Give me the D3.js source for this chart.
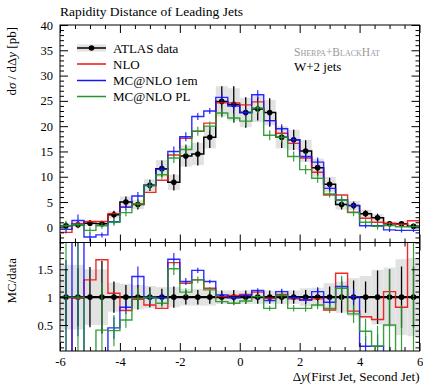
<!DOCTYPE html>
<html>
<head>
<meta charset="utf-8">
<script src="https://cdn.jsdelivr.net/npm/d3@7"></script>
<style>
  body { margin: 0; background: #fff; }
  svg text { font-family: "Liberation Serif", "DejaVu Serif", serif; fill: #000; }
</style>
</head>
<body>
<div id="chart"></div>
<script>
// bin edges of the Δy histogram (30 bins)
const binEdges = [-6, -5.6, -5.2, -4.8, -4.4, -4, -3.6, -3.2, -2.8, -2.4, -2, -1.6, -1.2, -0.8, -0.4,
  0, 0.4, 0.8, 1.2, 1.6, 2, 2.4, 2.8, 3.2, 3.6, 4, 4.4, 4.8, 5.2, 5.6, 6];

// ATLAS data, dσ/dΔy [pb]
const dataVals = [0.3, 0.5, 0.8, 0.7, 2.5, 5.0, 4.5, 8.3, 11.6, 8.9, 14.1, 14.5, 17.8, 24.9, 24.3,
  22.7, 23.4, 22.7, 17.8, 17.3, 15.1, 11.8, 8.5, 4.5, 4.3, 2.7, 1.9, 0.7, 0.7, 0.2];
const dataErr = [0.7, 0.7, 0.6, 0.6, 0.8, 1.1, 1.0, 1.1, 1.6, 1.6, 2.1, 2.3, 2.1, 3.0, 3.6,
  3.0, 2.3, 2.8, 2.1, 2.0, 2.1, 1.6, 1.3, 1.0, 0.8, 0.7, 0.8, 0.5, 0.5, 0.5];
const dataBand = [0.5, 0.5, 0.5, 0.5, 0.7, 1.1, 0.9, 1.2, 1.7, 1.5, 2.1, 2.2, 2.2, 3.0, 3.2,
  2.9, 2.6, 2.5, 2.2, 2.0, 2.2, 1.8, 1.5, 1.0, 0.9, 0.8, 0.7, 0.5, 0.5, 0.4];

// predictions
const nloVals = [-1.0, 0.7, 1.15, 1.15, 2.7, 4.0, 4.6, 6.9, 9.3, 14.3, 17.6, 19.0, 20.6, 24.6, 24.6,
  24.2, 24.8, 21.1, 18.6, 16.6, 13.7, 10.9, 6.4, 6.4, 3.0, 1.8, 1.0, 0.8, 0.6, 1.3];
const mc1emVals = [-0.4, 1.35, -1.9, -1.5, 1.1, 4.0, 6.2, 8.3, 11.5, 15.0, 17.9, 21.9, 23.0, 25.7, 24.0,
  22.7, 26.2, 21.1, 19.5, 17.3, 14.0, 12.9, 7.7, 5.4, 4.3, 0.3, 0.3, -0.5, -0.6, -0.6];
const mc1emErr = [0.8, 1.2, 0.9, 0.5, 0.5, 0.6, 0.8, 0.8, 1.0, 1.0, 0.9, 0.7, 0.6, 0.9, 0.8,
  0.7, 0.9, 1.0, 0.9, 0.8, 0.8, 0.9, 0.7, 0.6, 0.6, 0.5, 0.4, 0.4, 0.4, 0.3];
const mcPlVals = [0.3, 0.5, -0.6, 0.3, 1.0, 2.9, 4.6, 8.2, 10.4, 13.7, 15.4, 19.0, 20.0, 22.6, 21.6,
  21.0, 23.6, 18.2, 17.8, 14.0, 11.4, 9.7, 6.6, 5.4, 2.9, 1.0, 0.2, 0.35, 0.1, 0.1];
const mcPlErr = [1.0, 0.6, 0.6, 0.6, 0.7, 0.7, 0.8, 0.9, 0.9, 1.0, 1.0, 0.9, 0.9, 0.9, 0.9,
  1.0, 1.0, 1.0, 1.0, 1.0, 0.9, 0.9, 0.7, 1.0, 0.7, 0.6, 0.7, 0.7, 0.6, 0.5];

// ratio panel (MC/data)
const ratioDataErr = [0.5, 0.52, 0.54, 0.65, 0.28, 0.22, 0.22, 0.18, 0.15, 0.19, 0.13, 0.13, 0.12, 0.12, 0.13,
  0.12, 0.12, 0.12, 0.12, 0.12, 0.13, 0.16, 0.19, 0.28, 0.3, 0.28, 0.48, 0.5, 0.55, 0.55];
const ratioBand = [0.58, 0.58, 0.5, 0.5, 0.26, 0.24, 0.22, 0.2, 0.18, 0.18, 0.15, 0.15, 0.15, 0.12, 0.12,
  0.12, 0.12, 0.12, 0.12, 0.12, 0.16, 0.17, 0.25, 0.28, 0.34, 0.38, 0.49, 0.53, 0.68, 0.7];
const ratioNlo = [-1.0, 0.98, 1.31, 1.67, 1.07, 0.76, 0.96, 0.86, 0.80, 1.62, 1.25, 1.31, 1.16, 1.01, 1.03,
  1.05, 1.09, 0.98, 1.05, 0.97, 0.95, 0.97, 0.77, 1.43, 0.75, 0.65, 0.6, 1.1, 0.82, 2.5];
const ratio1em = [-1.0, 2.7, -2.4, -2.1, 0.45, 0.82, 1.37, 0.99, 0.99, 1.68, 1.28, 1.48, 1.28, 1.04, 0.99,
  1.03, 1.12, 0.94, 1.10, 0.99, 0.95, 1.1, 0.91, 1.19, 1.01, 0.12, 0.12, -0.7, -0.9, -3];
const ratioPl = [1.0, 1.0, -0.75, 0.41, 0.40, 0.59, 0.98, 1.0, 0.89, 1.51, 1.09, 1.31, 1.13, 0.92, 0.89,
  0.93, 1.01, 0.80, 1.03, 0.80, 0.80, 0.86, 0.80, 1.16, 0.70, 0.39, 0.12, 0.5, 0.0, 0.0];

// axis ticks
const xMajor = [-6, -4, -2, 0, 2, 4, 6];
const yMainMajor = [0, 5, 10, 15, 20, 25, 30, 35, 40];
const yRatioMajor = [0.5, 1, 1.5];
const yRatioLabels = ["0.5", "1", "1.5"];

const legendNames = ["ATLAS data", "NLO", "MC@NLO 1em", "MC@NLO PL"];
const colors = { data: "#000", nlo: "#ee1111", em: "#1414ff", pl: "#22962a" };

const W = 423, H = 384;
const pLeft = 60, pRight = 419.5, pTop = 25, pMid = 242.5, pBottom = 351;

const svg = d3.select("#chart").append("svg")
  .attr("width", W).attr("height", H);

const x = d3.scaleLinear().domain([-6, 6]).range([pLeft, pRight]);
const yMain = d3.scaleLinear().domain([-3, 40]).range([pMid, pTop]);
const yRatio = d3.scaleLinear().domain([0.035, 1.98]).range([pBottom, pMid]);

const defs = svg.append("defs");
defs.append("clipPath").attr("id", "clipMain").append("rect")
  .attr("x", pLeft).attr("y", pTop).attr("width", pRight - pLeft).attr("height", pMid - pTop);
defs.append("clipPath").attr("id", "clipRatio").append("rect")
  .attr("x", pLeft).attr("y", pMid).attr("width", pRight - pLeft).attr("height", pBottom - pMid);

const centers = dataVals.map(function(d, i) { return (binEdges[i] + binEdges[i + 1]) / 2; });

function stepLine(y) {
  return d3.line().x(function(d) { return x(d[0]); }).y(function(d) { return y(d[1]); })
    .curve(d3.curveStepAfter);
}
function stepPoints(vals) {
  const pts = vals.map(function(v, i) { return [binEdges[i], v]; });
  pts.push([binEdges[vals.length], vals[vals.length - 1]]);
  return pts;
}

function drawPanel(g, y, vals, errs, bands, series) {
  // grey band of data uncertainty
  g.selectAll("rect.band").data(vals).enter().append("rect")
    .attr("class", "band")
    .attr("x", function(d, i) { return x(binEdges[i]); })
    .attr("width", function(d, i) { return x(binEdges[i + 1]) - x(binEdges[i]); })
    .attr("y", function(d, i) { return y(d + bands[i]); })
    .attr("height", function(d, i) { return y(d - bands[i]) - y(d + bands[i]); })
    .attr("fill", "#e2e2e2");

  // data histogram
  g.append("path").datum(stepPoints(vals))
    .attr("d", stepLine(y)).attr("fill", "none")
    .attr("stroke", "#000").attr("stroke-width", series.ratio ? 2.2 : 1.5);
  g.selectAll("line.derr").data(vals).enter().append("line")
    .attr("x1", function(d, i) { return x(centers[i]); })
    .attr("x2", function(d, i) { return x(centers[i]); })
    .attr("y1", function(d, i) { return y(d - errs[i]); })
    .attr("y2", function(d, i) { return y(d + errs[i]); })
    .attr("stroke", "#000").attr("stroke-width", 1.3);
  g.selectAll("circle.dpt").data(vals).enter().append("circle")
    .attr("cx", function(d, i) { return x(centers[i]); })
    .attr("cy", function(d) { return y(d); })
    .attr("r", 2.8).attr("fill", "#000");

  // predictions
  series.list.forEach(function(s) {
    g.append("path").datum(stepPoints(s.vals))
      .attr("d", stepLine(y)).attr("fill", "none")
      .attr("stroke", s.color).attr("stroke-width", 1.4).attr("stroke-opacity", 0.9);
    if (!s.errs) return;
    g.selectAll(null).data(s.vals).enter().append("line")
      .attr("x1", function(d, i) { return x(centers[i]); })
      .attr("x2", function(d, i) { return x(centers[i]); })
      .attr("y1", function(d, i) { return y(d - s.errs[i]); })
      .attr("y2", function(d, i) { return y(d + s.errs[i]); })
      .attr("stroke", s.color).attr("stroke-width", 1.2).attr("stroke-opacity", 0.9);
  });
}

// main panel
const gMain = svg.append("g").attr("clip-path", "url(#clipMain)");
drawPanel(gMain, yMain, dataVals, dataErr, dataBand, {
  ratio: false,
  list: [
    { vals: nloVals, color: colors.nlo },
    { vals: mc1emVals, errs: mc1emErr, color: colors.em },
    { vals: mcPlVals, errs: mcPlErr, color: colors.pl }
  ]
});

// ratio panel: MC errors relative to data
const ones = dataVals.map(function() { return 1; });
function relErr(errs) { return errs.map(function(e, i) { return e / dataVals[i]; }); }
const gRatio = svg.append("g").attr("clip-path", "url(#clipRatio)");
drawPanel(gRatio, yRatio, ones, ratioDataErr, ratioBand, {
  ratio: true,
  list: [
    { vals: ratioNlo, color: colors.nlo },
    { vals: ratio1em, errs: relErr(mc1emErr), color: colors.em },
    { vals: ratioPl, errs: relErr(mcPlErr), color: colors.pl }
  ]
});

// frames
[[pTop, pMid], [pMid, pBottom]].forEach(function(p) {
  svg.append("rect").attr("x", pLeft).attr("y", p[0])
    .attr("width", pRight - pLeft).attr("height", p[1] - p[0])
    .attr("fill", "none").attr("stroke", "#000").attr("stroke-width", 1);
});

// axes with inward ticks
function addAxis(axis, tf, labels) {
  const g = svg.append("g").attr("transform", tf).call(axis);
  g.select(".domain").remove();
  g.selectAll(".tick line").attr("stroke", "#000");
  if (!labels) g.selectAll("text").remove();
  else g.selectAll("text").style("font-size", "12.5px").style("font-family", "Liberation Serif, serif");
  return g;
}
const xMinor = d3.range(-5.5, 6, 0.5).filter(function(v) { return xMajor.indexOf(v) < 0; });
const yMainMinor = d3.range(-3, 41, 1).filter(function(v) { return yMainMajor.indexOf(v) < 0; });
const yRatioMinor = d3.range(0.1, 1.95, 0.1).map(function(v) { return +v.toFixed(1); })
  .filter(function(v) { return yRatioMajor.indexOf(v) < 0; });

// x ticks
[["top", pTop], ["bottom", pMid], ["top", pMid], ["bottom", pBottom]].forEach(function(t, k) {
  const mk = t[0] === "top" ? d3.axisTop : d3.axisBottom;
  addAxis(mk(x).tickValues(xMajor).tickSize(-8).tickPadding(6).tickFormat(function(d) { return String(d); }),
    "translate(0," + t[1] + ")", k === 3);
  addAxis(mk(x).tickValues(xMinor).tickSize(-4).tickFormat(""), "translate(0," + t[1] + ")", false);
});

// main y ticks
addAxis(d3.axisLeft(yMain).tickValues(yMainMajor).tickSize(-8).tickPadding(7), "translate(" + pLeft + ",0)", true);
addAxis(d3.axisLeft(yMain).tickValues(yMainMinor).tickSize(-4).tickFormat(""), "translate(" + pLeft + ",0)", false);
addAxis(d3.axisRight(yMain).tickValues(yMainMajor).tickSize(-8), "translate(" + pRight + ",0)", false);
addAxis(d3.axisRight(yMain).tickValues(yMainMinor).tickSize(-4).tickFormat(""), "translate(" + pRight + ",0)", false);

// ratio y ticks
addAxis(d3.axisLeft(yRatio).tickValues(yRatioMajor).tickSize(-8).tickPadding(7)
  .tickFormat(function(d, i) { return yRatioLabels[i]; }), "translate(" + pLeft + ",0)", true);
addAxis(d3.axisLeft(yRatio).tickValues(yRatioMinor).tickSize(-4).tickFormat(""), "translate(" + pLeft + ",0)", false);
addAxis(d3.axisRight(yRatio).tickValues(yRatioMajor).tickSize(-8), "translate(" + pRight + ",0)", false);
addAxis(d3.axisRight(yRatio).tickValues(yRatioMinor).tickSize(-4).tickFormat(""), "translate(" + pRight + ",0)", false);

// titles and labels
svg.append("text").attr("x", pLeft).attr("y", 16).style("font-size", "13.5px")
  .text("Rapidity Distance of Leading Jets");

const yl = svg.append("text").attr("transform", "translate(16,27) rotate(-90)")
  .attr("text-anchor", "end").style("font-size", "13px");
yl.append("tspan").text("d");
yl.append("tspan").attr("font-style", "italic").text("σ");
yl.append("tspan").text(" / dΔ");
yl.append("tspan").attr("font-style", "italic").text("y");
yl.append("tspan").text(" [pb]");

svg.append("text").attr("transform", "translate(16,258) rotate(-90)")
  .attr("text-anchor", "end").style("font-size", "13px").text("MC/data");

const xl = svg.append("text").attr("x", pRight).attr("y", 381)
  .attr("text-anchor", "end").style("font-size", "13px");
xl.append("tspan").text("Δ");
xl.append("tspan").attr("font-style", "italic").text("y");
xl.append("tspan").text("(First Jet, Second Jet)");

svg.append("text").attr("x", 294).attr("y", 55.5).style("font-size", "11.5px")
  .style("font-variant", "small-caps").style("fill", "#9a9a9a")
  .text("Sherpa+BlackHat");
svg.append("text").attr("x", 294).attr("y", 71).style("font-size", "13px").text("W+2 jets");

// legend
const legY = [48, 64, 80.5, 96.5];
const legColors = [colors.data, colors.nlo, colors.em, colors.pl];
legendNames.forEach(function(name, i) {
  const g = svg.append("g");
  if (i === 0) {
    g.append("rect").attr("x", 77).attr("y", legY[i] - 3.5).attr("width", 29).attr("height", 7)
      .attr("fill", "#e2e2e2");
  }
  g.append("line").attr("x1", 77).attr("x2", 106).attr("y1", legY[i]).attr("y2", legY[i])
    .attr("stroke", legColors[i]).attr("stroke-width", 1.5);
  if (i === 0) g.append("circle").attr("cx", 91.5).attr("cy", legY[i]).attr("r", 2.8).attr("fill", "#000");
  g.append("text").attr("x", 113).attr("y", legY[i] + 4.5).style("font-size", "13px").text(name);
});
</script>
</body>
</html>
